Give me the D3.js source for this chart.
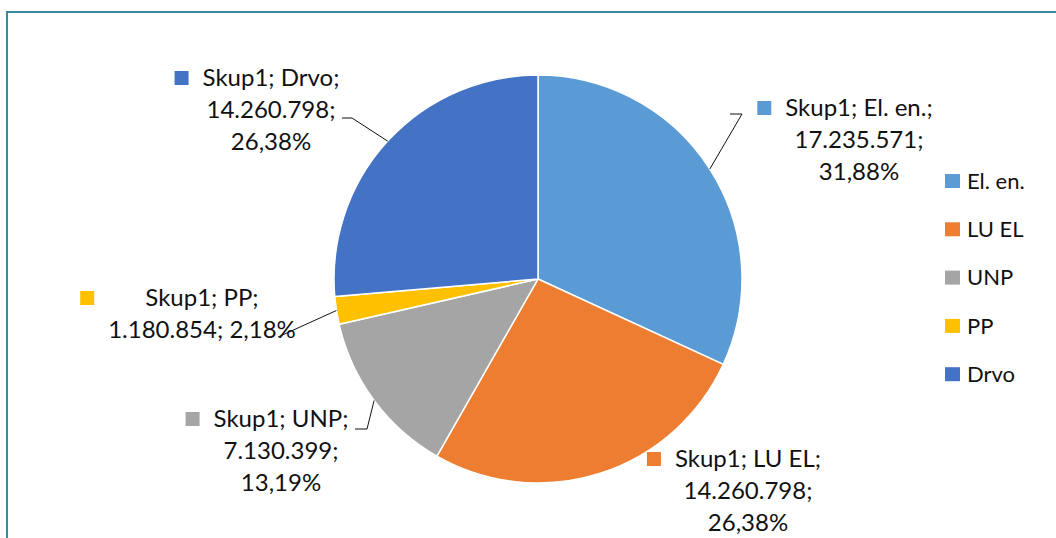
<!DOCTYPE html>
<html>
<head>
<meta charset="utf-8">
<script src="https://cdn.jsdelivr.net/npm/d3@7"></script>
<style>
  body { margin: 0; background: #fff; }
  svg { display: block; font-family: Lato, "Open Sans", sans-serif; }
</style>
</head>
<body>
<script>
// data
var categories = ["El. en.", "LU EL", "UNP", "PP", "Drvo"];
var values = [17235571, 14260798, 7130399, 1180854, 14260798];
var seriesName = "Skup1";
var colors = ["#5b9bd5", "#ed7d31", "#a5a5a5", "#ffc000", "#4472c4"];

// label layout: centre of text block, relative to the pie centre
var labelPos = [[321, -139], [210, 212], [-257, 172], [-336, 35], [-267, -169]];
var labelLines = [2, 2, 2, 1, 2];

var width = 1056,
    height = 538;
var cx = 538, cy = 279, r = 204;

var svg = d3.select("body").append("svg")
    .attr("width", width)
    .attr("height", height);

// frame
svg.append("rect")
    .attr("x", 7).attr("y", 12)
    .attr("width", width + 20).attr("height", height + 20)
    .attr("fill", "none")
    .attr("stroke", "#3a8aa2")
    .attr("stroke-width", 2);

var total = d3.sum(values);
var fmtNum = function(v) { return d3.format(",")(v).replace(/,/g, "."); };
var fmtPct = function(v) { return d3.format(".2f")(v * 100).replace(".", ",") + "%"; };

var pie = d3.pie().sort(null).value(function(d) { return d; });
var arcs = pie(values);
var arc = d3.arc().innerRadius(0).outerRadius(r);

var g = svg.append("g").attr("transform", "translate(" + cx + "," + cy + ")");

g.selectAll("path")
    .data(arcs)
    .enter().append("path")
    .attr("d", arc)
    .attr("fill", function(d, i) { return colors[i]; })
    .attr("stroke", "#fff")
    .attr("stroke-width", 1.5);

// data labels
var lineH = 32;
var labels = g.selectAll("g.lab")
    .data(arcs)
    .enter().append("g")
    .attr("class", "lab");

labels.each(function(d, i) {
  var sel = d3.select(this);
  var p = labelPos[i];
  var num = fmtNum(values[i]), pct = fmtPct(values[i] / total);
  var lines;
  if (labelLines[i] == 1) lines = [seriesName + "; " + categories[i] + ";", num + "; " + pct];
  else lines = [seriesName + "; " + categories[i] + ";", num + ";", pct];
  var y0 = p[1] - (lines.length - 1) * lineH / 2;
  var texts = sel.selectAll("text").data(lines).enter().append("text")
      .attr("x", p[0])
      .attr("y", function(t, j) { return y0 + j * lineH; })
      .attr("dy", "0.35em")
      .attr("text-anchor", "middle")
      .attr("font-size", 24)
      .attr("fill", "#111")
      .text(function(t) { return t; });
  var left = d3.min(texts.nodes(), function(n) { return n.getBBox().x; });
  sel.append("rect")
      .attr("x", left - 28).attr("y", y0 - 7)
      .attr("width", 14).attr("height", 14)
      .attr("fill", colors[i]);
});

// leader lines
var mid = function(d) { return (d.startAngle + d.endAngle) / 2; };
var leaders = [
  { i: 0, pts: [[204, -165], [192, -165]] },
  { i: 2, pts: [[-171, 150], [-183, 150]] },
  { i: 3, pts: [[-260, 58]] },
  { i: 4, pts: [[-186, -161], [-196, -161]] }
];
leaders.forEach(function(l) {
  var a = mid(arcs[l.i]);
  var start = [r * Math.sin(a), -r * Math.cos(a)];
  g.append("polyline")
      .attr("points", [start].concat(l.pts).map(function(p) { return p.join(","); }).join(" "))
      .attr("fill", "none")
      .attr("stroke", "#111")
      .attr("stroke-width", 1);
});

// legend
var legend = svg.append("g").attr("transform", "translate(945,181)");
var item = legend.selectAll("g")
    .data(categories)
    .enter().append("g")
    .attr("transform", function(d, i) { return "translate(0," + i * 48.3 + ")"; });
item.append("rect")
    .attr("x", 0).attr("y", -7)
    .attr("width", 15).attr("height", 14)
    .attr("fill", function(d, i) { return colors[i]; });
item.append("text")
    .attr("x", 22)
    .attr("dy", "0.35em")
    .attr("font-size", 22)
    .attr("fill", "#111")
    .text(function(d) { return d; });
</script>
</body>
</html>
